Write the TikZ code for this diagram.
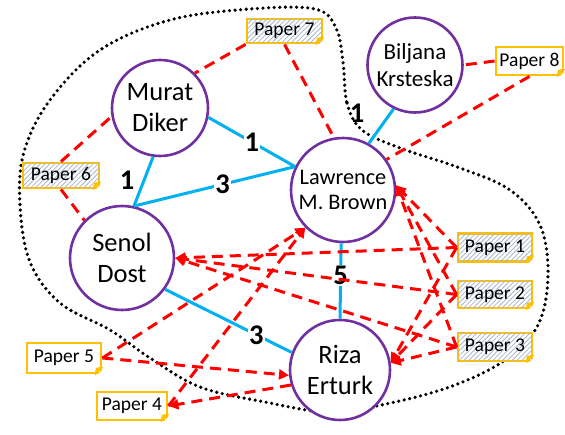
\documentclass[tikz,border=0pt]{standalone}
\usepackage{fontspec}
\setmainfont{Carlito}
\usetikzlibrary{arrows.meta,patterns.meta,calc}
\definecolor{cblue}{HTML}{00B0F0}
\definecolor{cpurple}{HTML}{7030A0}
\definecolor{corange}{HTML}{FFC000}
\definecolor{chatch}{HTML}{A8B6CE}
\begin{document}
\begin{tikzpicture}[x=1pt,y=-1pt,
 author/.style={circle,draw=cpurple,line width=2.6pt,fill=white,inner sep=0pt,align=center},
 paperbox/.style={draw=corange,line width=2.8pt,fill=white,inner sep=0pt,font=\fontsize{19.5}{19.5}\selectfont},
 hatched/.style={postaction={pattern={Lines[angle=45,distance=3.4pt,line width=0.8pt]},pattern color=chatch}},
 wedge/.style={draw=cblue,line width=3pt},
 wlabel/.style={font=\bfseries\fontsize{28.5}{28.5}\selectfont,fill=white,inner sep=1pt},
 link/.style={draw=red,line width=3pt,dash pattern=on 11pt off 7pt},
 cite/.style={link,-{Triangle[length=10pt,width=10pt]}},
 hull/.style={draw=black,line width=3.6pt,dash pattern=on 0pt off 5.6pt,line cap=round}
]
\useasboundingbox (0,0) rectangle (565,435);

% dotted hull
\draw[hull] plot[smooth cycle,tension=0.6] coordinates {
 (343,62) (347,103) (362,130) (400,148) (460,168) (510,190) (540,225) (548,275)
 (538,325) (505,360) (455,385) (395,402) (330,412) (265,402) (200,387) (150,358)
 (110,330) (60,303) (30,262) (20,205) (24,152) (50,100) (100,50) (170,20) (250,9) (315,9) (336,28)};

% authors
\node[author,minimum size=96pt,font=\fontsize{26.5}{31}\selectfont] (murat) at (160,108) {Murat\\Diker};
\node[author,minimum size=95pt,font=\fontsize{23}{27}\selectfont] (bilj) at (415,65) {Biljana\\Krsteska};
\node[author,minimum size=104pt,font=\fontsize{22.3}{25.5}\selectfont] (lawr) at (343,190) {Lawrence\\M. Brown};
\node[author,minimum size=104pt,font=\fontsize{26.5}{31}\selectfont] (senol) at (122,258) {Senol\\Dost};
\node[author,minimum size=100pt,font=\fontsize{26.5}{31}\selectfont] (riza) at (340,370) {Riza\\Erturk};

% papers
\node[paperbox,hatched,minimum width=75pt,minimum height=24pt] (p7) at (284.5,31) {Paper 7};
\node[paperbox,hatched,minimum width=76pt,minimum height=25pt] (p6) at (61,175.5) {Paper 6};
\node[paperbox,minimum width=67pt,minimum height=28pt] (p8) at (529.5,61) {Paper 8};
\node[paperbox,hatched,minimum width=74pt,minimum height=28pt] (p1) at (495,247.5) {Paper 1};
\node[paperbox,hatched,minimum width=74pt,minimum height=27pt] (p2) at (495,294.5) {Paper 2};
\node[paperbox,hatched,minimum width=74pt,minimum height=28pt] (p3) at (495,347) {Paper 3};
\node[paperbox,minimum width=74pt,minimum height=30pt] (p5) at (64,358) {Paper 5};
\node[paperbox,minimum width=70pt,minimum height=28pt] (p4) at (132,406) {Paper 4};

\foreach \p in {p1,p2,p3,p4,p5,p6,p7,p8}{
 \fill[white] ($(\p.south east)+(-7,2.5)$) -- ($(\p.south east)+(2.5,2.5)$) -- ($(\p.south east)+(2.5,-7)$) -- cycle;
 \filldraw[corange,line width=1.2pt,line join=round] ($(\p.south east)+(-7,0)$) -- ($(\p.south east)+(0,-7)$) -- ($(\p.south east)+(-6,-6)$) -- cycle;
}

% co-authorship edges
\draw[wedge] (murat.-11) -- (lawr.154) node[wlabel,pos=0.5] {1};
\draw[wedge] (murat.-98) -- (senol.77);
\node[font=\bfseries\fontsize{28.5}{28.5}\selectfont] (l2) at (127,180) {1};
\draw[wedge] (senol.77) -- (lawr.154) node[wlabel,pos=0.55] {3};
\draw[wedge] (bilj.-116) -- (lawr.61);
\node[font=\bfseries\fontsize{28.5}{28.5}\selectfont] (l4) at (357,113) {1};
\draw[wedge] (lawr.-92) -- (riza.90) node[wlabel,pos=0.43] {5};
\draw[wedge] (senol.-36) -- (riza.160) node[wlabel,pos=0.72] {3};

% citations
\foreach \p in {p1,p2,p3}{
 \draw[cite] (\p.west) -- (senol.east);
 \draw[cite] (\p.west) -- (lawr.5);
 \draw[cite] (\p.west) -- (riza.8);
}
\draw[cite] (p5.east) -- (lawr.-135);
\draw[cite] (p5.east) -- (riza.186);
\draw[cite] (p4.east) -- (lawr.-135);
\draw[cite] (riza.197) -- (p4.east);
\draw[link] (p6.north) -- (murat.190);
\draw[link] (p6.south) -- (senol.135);
\draw[link] (p7.south west) -- (murat.45);
\draw[link] (p7.south) -- (lawr.100);
\draw[link] (p8.west) -- (bilj.east);
\draw[link] (p8.south) -- (lawr.35);
\end{tikzpicture}
\end{document}
